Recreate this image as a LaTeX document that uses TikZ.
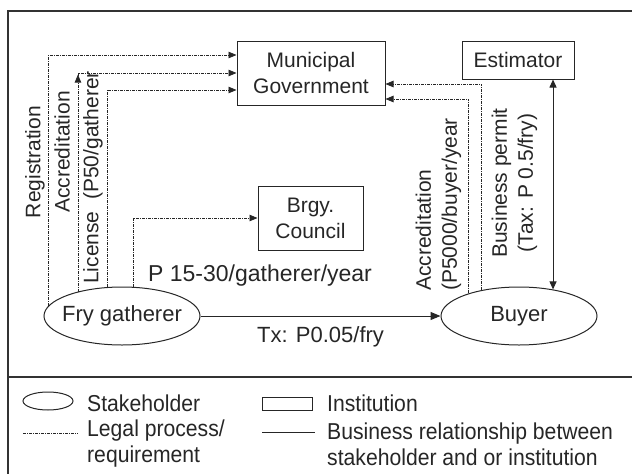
\documentclass[tikz,border=0pt]{standalone}
\usepackage{fontspec}
\setmainfont{Liberation Sans}
\usetikzlibrary{arrows.meta,shapes.geometric,decorations.markings}
\newcommand\fsz[1]{\fontsize{#1}{26}\selectfont}
\newcommand\lgx[1]{\scalebox{0.92}[1]{#1}}
\begin{document}
\begin{tikzpicture}[x=1pt,y=-1pt,
  ink/.style={draw=black!85, line width=1pt},
  inst/.style={ink, rectangle, inner sep=0pt, align=center, text=black!85, font=\fsz{21}},
  stake/.style={ink, ellipse, inner sep=0pt, minimum width=156pt, minimum height=58pt, text=black!85, font=\fsz{22}},
  lbl/.style={inner sep=0pt, text=black!85, font=\fsz{21}},
  legdash/.style={draw=black!85, line width=0.8pt, dash pattern=on 3pt off 1pt on 1pt off 1pt},
  legal/.style={legdash, -{Triangle[length=8pt,width=6.5pt]}},
  biz/.style={draw=black!85, line width=1pt},
  frame/.style={draw=black!80, line width=1.2pt}]
\useasboundingbox (0,0) rectangle (632,474);
\clip (0,0) rectangle (632,474);
% frame
\draw[frame] (640,11) -| (8,480);
\draw[frame] (8,377) -- (640,377);
% institutions
\node[inst, minimum width=148pt, minimum height=64pt] (muni) at (311,73) {Municipal\\Government};
\node[inst, minimum width=112pt, minimum height=38pt] (est) at (518,60) {Estimator};
\node[inst, minimum width=105pt, minimum height=64pt] (brgy) at (310.5,218) {Brgy.\\Council};
% stakeholders
\node[stake] (fry) at (122,316) {\makebox[0pt]{Fry gatherer}};
\node[stake] (buyer) at (519,316) {\makebox[0pt]{Buyer}};
% legal processes from fry gatherer
\draw[legal] (fry.172) |- ([yshift=18pt]muni.west);
\draw[legal, decoration={markings, mark=at position 217pt with {\arrow{Triangle[length=8pt,width=6.5pt]}}}, postaction={decorate}] (fry.151.4) |- (muni.west);
\draw[legal] (fry.117.8) |- ([yshift=-17pt]muni.west);
\draw[legal] (fry.69) |- (brgy.west);
% legal processes from buyer
\draw[legal] (buyer.145.4) |- ([yshift=-11pt]muni.east);
\draw[legal] (buyer.156.8) |- ([yshift=-26pt]muni.east);
% business relationships
\draw[biz, -{Triangle[length=10pt,width=8pt]}] (fry) -- (buyer);
\draw[biz, {Triangle[length=8pt,width=7pt]}-{Triangle[length=8pt,width=7pt]}] (est.south -| buyer.38.6) -- (buyer.38.6);
% labels
\node[lbl, rotate=90] (lreg) at (35,162) {Registration};
\node[lbl, rotate=90] (lacc) at (62,152) {Accreditation};
\node[lbl, rotate=90] (llic) at (93,177.5) {License\ \ (P50/gatherer};
\node[lbl, anchor=west, font=\fsz{23}] (lfee) at (148,276) {P 15-30/gatherer/year};
\node[lbl, anchor=west, font=\fsz{22}] (ltx) at (257,337) {Tx: P0.05/fry};
\node[lbl, rotate=90, anchor=west, align=left] (lbacc) at (438.5,291) {Accreditation\\(P5000/buyer/year};
\node[lbl, rotate=90, align=center] (lbp) at (514.5,183) {Business permit\\(Tax: P 0.5/fry)};
% legend
\node[ink, ellipse, minimum width=50pt, minimum height=18pt, inner sep=0pt] (lge) at (48,401) {};
\node[lbl, anchor=west, font=\fsz{23}] (lgs) at (87,403) {\lgx{Stakeholder}};
\node[ink, rectangle, minimum width=50pt, minimum height=13pt, inner sep=0pt] (lgr) at (287,404) {};
\node[lbl, anchor=west, font=\fsz{23}] (lgi) at (327,403) {\lgx{Institution}};
\node[lbl, anchor=west, align=left, font=\fsz{23}] (lgl) at (87,444) {\lgx{Legal process/}\\\lgx{requirement}};
\node[lbl, anchor=west, align=left, font=\fsz{23}] (lgb) at (327,444) {\lgx{Business relationship between}\\\lgx{stakeholder and or institution}};
\coordinate (ld1) at (23,433);
\coordinate (ld2) at (78,433);
\draw[legdash] (ld1) -- (ld2);
\coordinate (lb1) at (262,432);
\coordinate (lb2) at (315,432);
\draw[biz] (lb1) -- (lb2);
\end{tikzpicture}
\end{document}
